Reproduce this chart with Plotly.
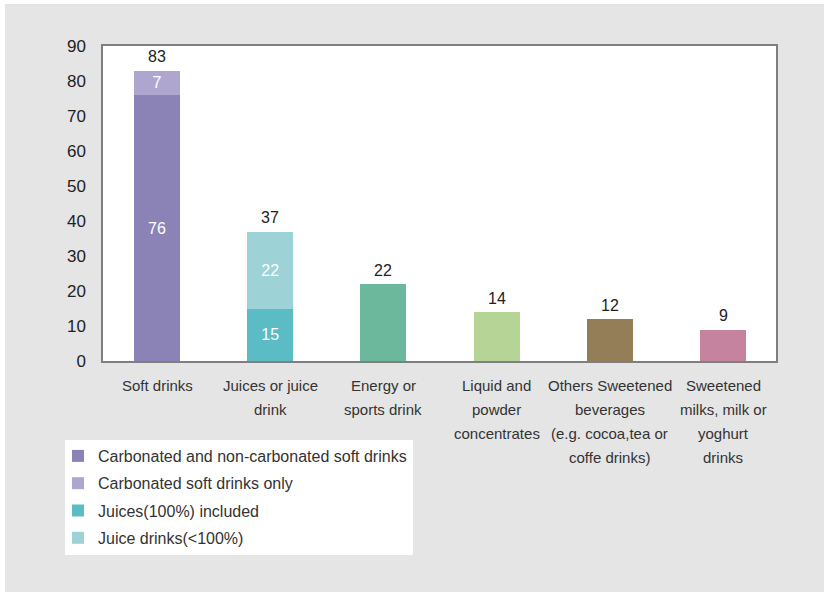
import plotly.graph_objects as go

# ---------------- data ----------------
categories = ["Soft drinks", "Juices or juice drink", "Energy or sports drink",
              "Liquid and powder concentrates",
              "Others Sweetened beverages (e.g. cocoa,tea or coffe drinks)",
              "Sweetened milks, milk or yoghurt drinks"]
category_lines = [["Soft drinks"],
                  ["Juices or juice", "drink"],
                  ["Energy or", "sports drink"],
                  ["Liquid and", "powder", "concentrates"],
                  ["Others Sweetened", "beverages", "(e.g. cocoa,tea or", "coffe drinks)"],
                  ["Sweetened", "milks, milk or", "yoghurt", "drinks"]]
totals = [83, 37, 22, 14, 12, 9]

soft_all_name = "Carbonated and non-carbonated soft drinks"
soft_all = [76]
soft_carb_name = "Carbonated soft drinks only"
soft_carb = [7]
juice100_name = "Juices(100%) included"
juice100 = [15]
juicedrink_name = "Juice drinks(<100%)"
juicedrink = [22]
other_cats = categories[2:]
other_vals = [22, 14, 12, 9]

# ---------------- style ----------------
FONT = "Liberation Sans, Arial, sans-serif"
C_SOFT = "#8b82b6"
C_SOFT2 = "#afa6cf"
C_JUICE = "#5bbcc6"
C_JUICE2 = "#9dd2d7"
other_colors = ["#6bb89d", "#b6d495", "#937e57", "#c5839f"]
BAR_W = 0.406

W, H = 826, 593
ML, MR, MT, MB = 103, 50, 46, 232
PW, PH = W - ML - MR, H - MT - MB


def px_x(p):
    return (p - ML) / PW


def px_y(p):
    return (H - MB - p) / PH


fig = go.Figure()

def seg(name, x, y, color, group):
    fig.add_trace(go.Bar(
        name=name, x=x, y=y, marker=dict(color=color, line=dict(width=0)),
        width=BAR_W, text=y, texttemplate="%{y}", textposition="inside",
        insidetextanchor="middle", textangle=0,
        textfont=dict(color="white", size=16, family=FONT),
        legendgroup=group, hoverinfo="skip"))

seg(soft_all_name, [categories[0]], soft_all, C_SOFT, "g1")
seg(soft_carb_name, [categories[0]], soft_carb, C_SOFT2, "g2")
seg(juice100_name, [categories[1]], juice100, C_JUICE, "g3")
seg(juicedrink_name, [categories[1]], juicedrink, C_JUICE2, "g4")

fig.add_trace(go.Bar(
    x=other_cats, y=other_vals, marker=dict(color=other_colors, line=dict(width=0)),
    width=BAR_W, showlegend=False, hoverinfo="skip"))

# totals above bars
for c, t in zip(categories, totals):
    fig.add_annotation(x=c, y=t, xref="x", yref="y", text=str(t), showarrow=False,
                       yanchor="middle", yshift=14,
                       font=dict(size=16, color="#222222", family=FONT))

# category labels (one annotation per line for spacing)
for c, lines in zip(categories, category_lines):
    for k, ln in enumerate(lines):
        fig.add_annotation(x=c, y=0, xref="x", yref="paper", text=ln, showarrow=False,
                           yanchor="middle", yshift=-(24 + 24 * k),
                           font=dict(size=15, color="#333333", family=FONT))

# grey panel + white plot area + legend box
fig.add_shape(type="rect", xref="paper", yref="paper",
              x0=px_x(5), x1=px_x(824), y0=px_y(592), y1=px_y(4),
              fillcolor="#e5e5e5", line=dict(width=0), layer="below")
fig.add_shape(type="rect", xref="paper", yref="paper", x0=0, x1=1, y0=0, y1=1,
              fillcolor="white", line=dict(width=0), layer="below")
fig.add_shape(type="rect", xref="paper", yref="paper",
              x0=px_x(65), x1=px_x(413), y0=px_y(555), y1=px_y(440),
              fillcolor="white", line=dict(width=0), layer="below")

fig.update_layout(
    width=W, height=H,
    margin=dict(l=ML, r=MR, t=MT, b=MB, autoexpand=False),
    paper_bgcolor="white", plot_bgcolor="white",
    barmode="stack",
    font=dict(family=FONT, color="#222222"),
    uniformtext=dict(minsize=16, mode="show"),
    showlegend=True,
    legend=dict(x=px_x(58), xanchor="left", y=px_y(439), yanchor="top",
                bgcolor="rgba(0,0,0,0)", borderwidth=0, traceorder="grouped",
                tracegroupgap=3.5, font=dict(size=16, color="#333333", family=FONT)),
    xaxis=dict(categoryorder="array", categoryarray=categories, showticklabels=False,
               range=[-0.477, 5.468],
               showline=True, mirror=True, linecolor="#7f7f7f", linewidth=1.5,
               ticks="", showgrid=False, zeroline=False, fixedrange=True),
    yaxis=dict(range=[0, 90], tickvals=list(range(0, 91, 10)), showgrid=False,
               zeroline=False, showline=True, mirror=True, linecolor="#7f7f7f",
               linewidth=1.5, ticks="outside", ticklen=12, tickcolor="rgba(0,0,0,0)",
               tickfont=dict(size=17, color="#222222", family=FONT), fixedrange=True),
)

fig.write_html("out.html", config={"displayModeBar": False},
               post_script="document.body.style.margin='0';document.body.style.overflow='hidden';")
